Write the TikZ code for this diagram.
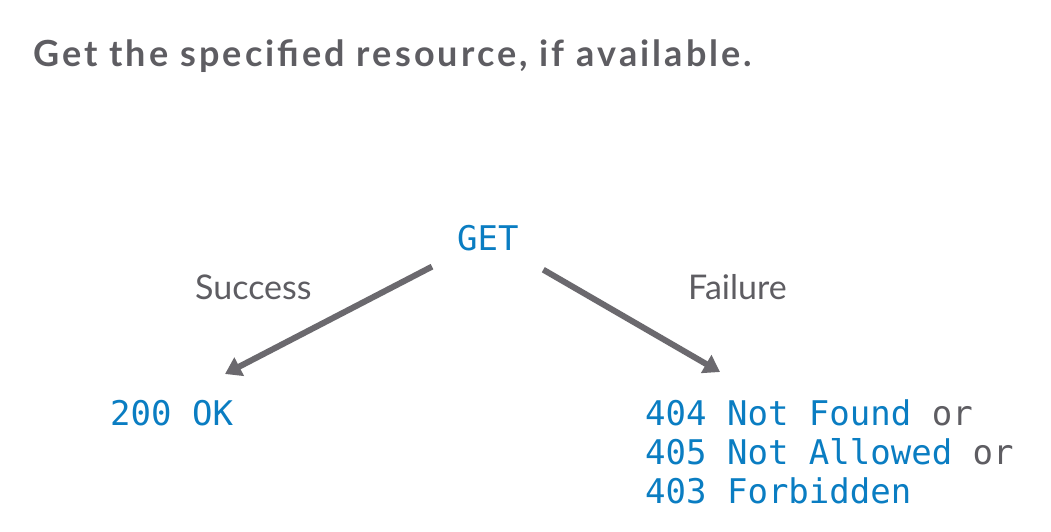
\documentclass[tikz,border=0pt]{standalone}
\usepackage{fontspec}
\setmainfont{Lato}
\setmonofont{DejaVu Sans Mono}
\newfontfamily\titlefont{Lato}[LetterSpace=8.5]
\usetikzlibrary{arrows.meta}
\definecolor{codeblue}{HTML}{0A7DC2}
\definecolor{textgray}{HTML}{5E5D62}
\definecolor{arrowgray}{HTML}{6B696E}
\begin{document}
\begin{tikzpicture}[x=1pt,y=-1pt,
	code/.style={font=\fontsize{34}{39}\selectfont\ttfamily,text=codeblue,inner sep=0pt,anchor=base west},
	branch/.style={font=\fontsize{34}{40}\selectfont,text=textgray,inner sep=0pt,anchor=base west},
	arr/.style={draw=arrowgray,line width=6pt,-{Triangle[length=16pt,width=20pt]}}]
	\fill[white] (0,0) rectangle (1051,531);
	\useasboundingbox (0,0) rectangle (1051,531);

	\node (title) [branch,font=\fontsize{36}{40}\selectfont\titlefont\bfseries] at (33,66) {Get the specified resource, if available.};

	\node (get) [code] at (457,250) {GET};
	\node (success) [branch] at (195,299) {Success};
	\node (failure) [branch] at (688,299) {Failure};

	\node (ok) [code] at (110,425) {200 OK};
	\node (f1) [code] at (645,425) {404 Not Found {\color{textgray}or}};
	\node (f2) [code] at (645,464) {405 Not Allowed {\color{textgray}or}};
	\node (f3) [code] at (645,503) {403 Forbidden};

	\coordinate (okend) at (225,374);
	\coordinate (failend) at (720,372);
	\draw[arr,shorten <=63pt] (get.center) -- (okend);
	\draw[arr,shorten <=64pt] (get.center) -- (failend);
\end{tikzpicture}
\end{document}
